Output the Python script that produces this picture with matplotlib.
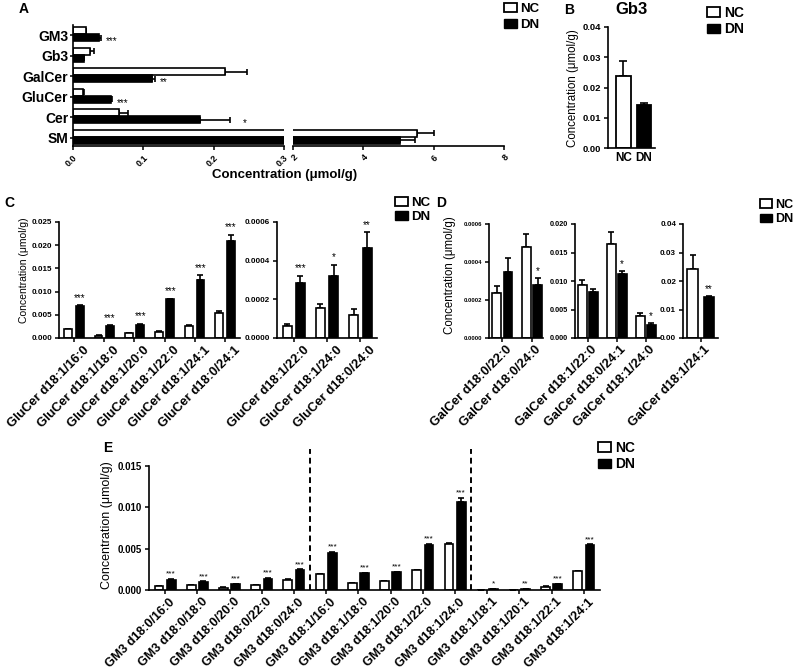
import numpy as np
import matplotlib
matplotlib.use("Agg")
import matplotlib.pyplot as plt
from matplotlib.patches import Patch

plt.rcParams['font.family'] = ['Liberation Sans', 'DejaVu Sans']
plt.rcParams['axes.linewidth'] = 1.2
plt.rcParams['xtick.major.width'] = 1.1
plt.rcParams['ytick.major.width'] = 1.1
plt.rcParams['xtick.major.size'] = 3
plt.rcParams['ytick.major.size'] = 3

# ---------------- data ----------------
# Panel A
a_cats = ['GM3', 'Gb3', 'GalCer', 'GluCer', 'Cer', 'SM']
a_nc = [0.0178, 0.0235, 0.216, 0.014, 0.065, 5.54]
a_nc_err = [0.0010, 0.0065, 0.031, 0.001, 0.013, 0.48]
a_dn = [0.0376, 0.015, 0.112, 0.054, 0.181, 5.05]
a_dn_err = [0.0015, 0.0005, 0.004, 0.001, 0.042, 0.42]
a_sig = ['***', '', '**', '***', '*', '']

# Panel B
b_cats = ['NC', 'DN']
b_vals = [0.0238, 0.0143]
b_err = [0.0051, 0.0005]

# Panel C
c1_cats = ['GluCer d18:1/16:0', 'GluCer d18:1/18:0', 'GluCer d18:1/20:0',
           'GluCer d18:1/22:0', 'GluCer d18:1/24:1', 'GluCer d18:0/24:1']
c1_nc = [0.0019, 0.0005, 0.0010, 0.0014, 0.0026, 0.0054]
c1_nc_err = [0.0001, 0.0001, 0.0001, 0.0001, 0.0002, 0.0004]
c1_dn = [0.0069, 0.0025, 0.0029, 0.0083, 0.0125, 0.0210]
c1_dn_err = [0.0002, 0.0002, 0.0002, 0.0002, 0.0011, 0.0013]
c1_sig = ['***', '***', '***', '***', '***', '***']

c2_cats = ['GluCer d18:1/22:0', 'GluCer d18:1/24:0', 'GluCer d18:0/24:0']
c2_nc = [0.000061, 0.000153, 0.000118]
c2_nc_err = [0.000012, 0.000021, 0.000030]
c2_dn = [0.000282, 0.000323, 0.000466]
c2_dn_err = [0.000041, 0.000057, 0.000084]
c2_sig = ['***', '*', '**']

# Panel D
d1_cats = ['GalCer d18:0/22:0', 'GalCer d18:0/24:0']
d1_nc = [0.000237, 0.000479]
d1_nc_err = [0.000035, 0.000069]
d1_dn = [0.000350, 0.000280]
d1_dn_err = [0.000069, 0.000035]
d1_sig = ['', '*']

d2_cats = ['GalCer d18:1/22:0', 'GalCer d18:0/24:1', 'GalCer d18:1/24:0']
d2_nc = [0.00926, 0.0165, 0.0039]
d2_nc_err = [0.0009, 0.0021, 0.0005]
d2_dn = [0.0081, 0.0112, 0.0023]
d2_dn_err = [0.0005, 0.0006, 0.0003]
d2_sig = ['', '*', '*']

d3_cats = ['GalCer d18:1/24:1']
d3_nc = [0.0242]
d3_nc_err = [0.0049]
d3_dn = [0.0143]
d3_dn_err = [0.0004]
d3_sig = ['**']

# Panel E
e_cats = ['GM3 d18:0/16:0', 'GM3 d18:0/18:0', 'GM3 d18:0/20:0', 'GM3 d18:0/22:0',
          'GM3 d18:0/24:0', 'GM3 d18:1/16:0', 'GM3 d18:1/18:0', 'GM3 d18:1/20:0',
          'GM3 d18:1/22:0', 'GM3 d18:1/24:0', 'GM3 d18:1/18:1', 'GM3 d18:1/20:1',
          'GM3 d18:1/22:1', 'GM3 d18:1/24:1']
e_nc = [0.00048, 0.00060, 0.00030, 0.00056, 0.00125, 0.00190, 0.00085, 0.00105,
        0.00240, 0.00560, 0.00002, 0.00003, 0.00040, 0.00225]
e_nc_err = [0.00003, 0.00003, 0.00002, 0.00003, 0.00005, 0.00008, 0.00004, 0.00005,
            0.00007, 0.00010, 0.00001, 0.00001, 0.00003, 0.00008]
e_dn = [0.00125, 0.00100, 0.00070, 0.00137, 0.00240, 0.00450, 0.00200, 0.00215,
        0.00550, 0.01070, 0.00010, 0.00010, 0.00070, 0.00540]
e_dn_err = [0.00006, 0.00005, 0.00004, 0.00006, 0.00008, 0.00012, 0.00008, 0.00008,
            0.00008, 0.00040, 0.00002, 0.00002, 0.00006, 0.00012]
e_sig = ['***'] * 10 + ['*', '**', '***', '***']

# ---------------- figure ----------------
W, H = 795, 671
fig = plt.figure(figsize=(W / 100, H / 100), dpi=100)


def ax_px(x0, y0, x1, y1):
    return fig.add_axes([x0 / W, 1 - y1 / H, (x1 - x0) / W, (y1 - y0) / H])


def style(ax):
    ax.spines['top'].set_visible(False)
    ax.spines['right'].set_visible(False)
    ax.tick_params(direction='out')


def legend(x, y, fs=9.5, spacing=0.15):
    handles = [Patch(facecolor='white', edgecolor='black', linewidth=1.3),
               Patch(facecolor='black', edgecolor='black')]
    fig.legend(handles, ['NC', 'DN'], loc='upper left',
               bbox_to_anchor=(x / W, 1 - y / H), frameon=False,
               prop={'weight': 'bold', 'size': fs}, handlelength=0.95,
               handleheight=0.65, handletextpad=0.25, labelspacing=spacing,
               borderaxespad=0, borderpad=0)


def vbars(ax, cats, nc, nc_err, dn, dn_err, sig, width, off, sigfs=7,
          labfs=9.5, cap=2.5, sigpad=1.5, shift=0, drop=6):
    x = np.arange(len(cats))
    ax.bar(x - off, nc, width, color='white', edgecolor='black', linewidth=1.2, zorder=2)
    ax.bar(x + off, dn, width, color='black', edgecolor='black', linewidth=1.2, zorder=2)
    ax.errorbar(x - off, nc, yerr=[np.zeros(len(nc)), nc_err], fmt='none',
                ecolor='black', elinewidth=1.2, capsize=cap, capthick=1.2, zorder=1)
    ax.errorbar(x + off, dn, yerr=[np.zeros(len(dn)), dn_err], fmt='none',
                ecolor='black', elinewidth=1.2, capsize=cap, capthick=1.2, zorder=1)
    for xi, v, e, s in zip(x, dn, dn_err, sig):
        if s:
            ax.annotate(s, (xi + off, v + e), xytext=(0, sigpad),
                        textcoords='offset points', ha='center', va='bottom',
                        fontsize=sigfs)
    ax.set_xticks(x)
    ax.set_xticklabels([''] * len(cats))
    # rotated category labels, anchored below each tick
    for xi, c in zip(x, cats):
        ax.annotate(c, (xi, 0), xycoords=('data', 'axes fraction'),
                    xytext=(shift, -drop), textcoords='offset pixels',
                    rotation=45, ha='right', va='top', rotation_mode='anchor',
                    fontsize=labfs, fontweight='bold', annotation_clip=False)
    style(ax)


def yt(ax, ticks, labels, fs, pad=2):
    ax.set_yticks(ticks)
    ax.set_yticklabels(labels, fontsize=fs, fontweight='bold')
    ax.set_ylim(ticks[0], ticks[-1])
    ax.tick_params(axis='y', pad=pad)


# ---------------- Panel A ----------------
axA1 = ax_px(73, 25, 284, 146)
axA2 = ax_px(293, 25, 504, 146)
ya = np.arange(len(a_cats))[::-1]
for ax in (axA1, axA2):
    ax.barh(ya + 0.17, a_nc, 0.32, color='white', edgecolor='black', linewidth=1.2, zorder=2)
    ax.barh(ya - 0.17, a_dn, 0.32, color='black', edgecolor='black', linewidth=1.2, zorder=2)
    ax.errorbar(a_nc, ya + 0.17, xerr=[np.zeros(6), a_nc_err], fmt='none',
                ecolor='black', elinewidth=1.2, capsize=2, capthick=1.2, zorder=1)
    ax.errorbar(a_dn, ya - 0.17, xerr=[np.zeros(6), a_dn_err], fmt='none',
                ecolor='black', elinewidth=1.2, capsize=2, capthick=1.2, zorder=1)
    ax.set_ylim(-0.45, 5.45)
    style(ax)
axA1.set_xlim(0, 0.3)
axA1.set_xticks([0, 0.1, 0.2, 0.3])
axA1.set_xticklabels(['0.0', '0.1', '0.2', '0.3'], rotation=45, fontsize=6.5,
                     fontweight='bold', ha='right', va='top', rotation_mode='anchor')
axA1.tick_params(axis='x', pad=2)
axA1.set_yticks(ya - 0.05)
axA1.set_yticklabels(a_cats, fontsize=10, fontweight='bold')
axA1.tick_params(axis='y', pad=1, length=2.5)
for yi, v, e, s in zip(ya, a_dn, a_dn_err, a_sig):
    if s:
        axA1.annotate(s, (v + e, yi - 0.17), xytext=(4 if s != '*' else 9, -2.5),
                      textcoords='offset points', ha='left', va='center', fontsize=7)
axA2.set_xlim(2, 8)
axA2.set_xticks([2, 4, 6, 8])
axA2.set_xticklabels(['2', '4', '6', '8'], rotation=45, fontsize=6.5,
                     fontweight='bold', ha='right', va='top', rotation_mode='anchor')
axA2.tick_params(axis='x', pad=2)
axA2.spines['left'].set_visible(False)
axA2.set_yticks([])
fig.text(285 / W, 1 - 175 / H, 'Concentration (μmol/g)', ha='center', va='center',
         fontsize=9.5, fontweight='bold')
legend(504, 3, fs=9.5, spacing=0.3)

# ---------------- Panel B ----------------
axB = ax_px(608, 27, 655, 148)
axB.bar([0, 1], b_vals, 0.71, color=['white', 'black'], edgecolor='black',
        linewidth=1.3, zorder=2)
axB.errorbar([0, 1], b_vals, yerr=[[0, 0], b_err], fmt='none', ecolor='black',
             elinewidth=1.2, capsize=3, capthick=1.2, zorder=1)
axB.set_xlim(-0.75, 1.55)
axB.set_xticks([0, 1])
axB.set_xticklabels(b_cats, fontsize=8.5, fontweight='bold')
axB.tick_params(axis='x', length=0, pad=3)
yt(axB, [0, 0.01, 0.02, 0.03, 0.04], ['0.00', '0.01', '0.02', '0.03', '0.04'], 6.8)
style(axB)
axB.set_title('Gb3', fontsize=12, fontweight='bold', pad=9)
fig.text(573 / W, 1 - 88 / H, 'Concentration (μmol/g)', rotation=90, ha='center',
         va='center', fontsize=8.3)
legend(707, 6, fs=10, spacing=0.15)

# ---------------- Panel C ----------------
axC1 = ax_px(59, 222, 240, 338)
vbars(axC1, c1_cats, c1_nc, c1_nc_err, c1_dn, c1_dn_err, c1_sig, 0.26, 0.19,
      sigfs=7, labfs=9.3, shift=9, drop=6)
axC1.set_xlim(-0.5, 5.5)
yt(axC1, [0, 0.005, 0.01, 0.015, 0.02, 0.025],
   ['0.000', '0.005', '0.010', '0.015', '0.020', '0.025'], 5.8)

axC2 = ax_px(277, 222, 377, 338)
vbars(axC2, c2_cats, c2_nc, c2_nc_err, c2_dn, c2_dn_err, c2_sig, 0.27, 0.2,
      sigfs=7, labfs=9.3, shift=9, drop=6)
axC2.set_xlim(-0.5, 2.5)
yt(axC2, [0, 0.0002, 0.0004, 0.0006], ['0.0000', '0.0002', '0.0004', '0.0006'], 5.8)
fig.text(24 / W, 1 - 270 / H, 'Concentration (μmol/g)', rotation=90, ha='center',
         va='center', fontsize=7.5)
legend(395, 197, fs=9.5, spacing=0.15)

# ---------------- Panel D ----------------
axD1 = ax_px(489, 224, 543, 338)
vbars(axD1, d1_cats, d1_nc, d1_nc_err, d1_dn, d1_dn_err, d1_sig, 0.3, 0.19,
      sigfs=7, labfs=9.3, shift=3, drop=6)
axD1.set_xlim(-0.45, 1.37)
yt(axD1, [0, 0.0002, 0.0004, 0.0006], ['0.0000', '0.0002', '0.0004', '0.0006'], 4.2)

axD2 = ax_px(575, 224, 660, 338)
vbars(axD2, d2_cats, d2_nc, d2_nc_err, d2_dn, d2_dn_err, d2_sig, 0.31, 0.19,
      sigfs=7, labfs=9.3, shift=3, drop=6)
axD2.set_xlim(-0.45, 2.5)
yt(axD2, [0, 0.005, 0.01, 0.015, 0.02], ['0.000', '0.005', '0.010', '0.015', '0.020'], 5.3)

axD3 = ax_px(683, 224, 718, 338)
vbars(axD3, d3_cats, d3_nc, d3_nc_err, d3_dn, d3_dn_err, d3_sig, 0.36, 0.27,
      sigfs=7, labfs=9.3, shift=3, drop=6)
axD3.set_xlim(-0.6, 0.57)
yt(axD3, [0, 0.01, 0.02, 0.03, 0.04], ['0.00', '0.01', '0.02', '0.03', '0.04'], 5.8)
fig.text(450 / W, 1 - 275 / H, 'Concentration (μmol/g)', rotation=90, ha='center',
         va='center', fontsize=8.3)
legend(760, 199, fs=9, spacing=0.2)

# ---------------- Panel E ----------------
axE = ax_px(149, 466, 600, 590)
vbars(axE, e_cats, e_nc, e_nc_err, e_dn, e_dn_err, e_sig, 0.27, 0.19,
      sigfs=6, labfs=9.0, cap=2, sigpad=1, shift=4, drop=6)
axE.set_xlim(-0.5, len(e_cats) - 0.5)
yt(axE, [0, 0.005, 0.01, 0.015], ['0.000', '0.005', '0.010', '0.015'], 7)
for xd in (4.5, 9.5):
    axE.plot([xd, xd], [0, 0.0171], ls=(0, (3, 2)), color='black', lw=1.4,
             clip_on=False, zorder=3)
fig.text(107 / W, 1 - 525 / H, 'Concentration (μmol/g)', rotation=90, ha='center',
         va='center', fontsize=9)
legend(598, 441, fs=10, spacing=0.15)

# ---------------- panel letters ----------------
for lab, x, y in [('A', 24, 9), ('B', 569, 10), ('C', 9, 203), ('D', 441, 203),
                  ('E', 108, 448)]:
    fig.text(x / W, 1 - y / H, lab, ha='center', va='center', fontsize=10,
             fontweight='bold')

fig.savefig('out.png', dpi=100)
